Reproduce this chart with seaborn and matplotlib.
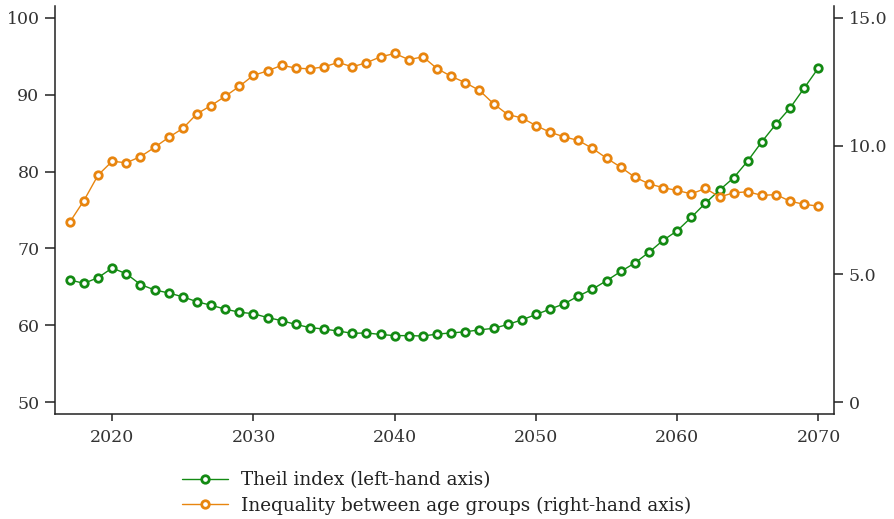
import matplotlib
matplotlib.use("Agg")
import matplotlib.pyplot as plt
import seaborn as sns
import pandas as pd
import numpy as np

years = list(range(2017, 2071))
theil = [65.9, 65.45, 66.2, 67.45, 66.7, 65.3, 64.6, 64.2, 63.7, 63.06,
         62.6, 62.1, 61.7, 61.5, 61.0, 60.6, 60.1, 59.7, 59.5, 59.25,
         58.95, 59.0, 58.8, 58.65, 58.65, 58.6, 58.85, 59.0, 59.15, 59.4,
         59.6, 60.1, 60.7, 61.4, 62.1, 62.8, 63.8, 64.7, 65.8, 67.0,
         68.1, 69.5, 71.05, 72.3, 74.05, 75.9, 77.6, 79.2, 81.4, 83.9,
         86.2, 88.3, 90.9, 93.5]
age_groups = [7.03, 7.87, 8.86, 9.4, 9.34, 9.58, 9.94, 10.33, 10.68, 11.25,
              11.57, 11.93, 12.32, 12.75, 12.92, 13.14, 13.03, 13.0, 13.08, 13.25,
              13.08, 13.24, 13.47, 13.6, 13.36, 13.47, 13.01, 12.71, 12.46, 12.16,
              11.64, 11.22, 11.09, 10.79, 10.53, 10.35, 10.21, 9.9, 9.52, 9.17,
              8.78, 8.52, 8.37, 8.26, 8.13, 8.34, 8.01, 8.17, 8.21, 8.07,
              8.1, 7.84, 7.72, 7.65]

left_ticks = [50, 60, 70, 80, 90, 100]
right_ticks = [0, 5, 10, 15]
right_tick_labels = ["0", "5.0", "10.0", "15.0"]
x_ticks = [2020, 2030, 2040, 2050, 2060, 2070]

label_theil = "Theil index (left-hand axis)"
label_age = "Inequality between age groups (right-hand axis)"

df = pd.DataFrame({"year": years, "theil": theil, "age": age_groups})

sns.set_theme(style="white")
plt.rcParams["font.family"] = ["DejaVu Serif", "Liberation Serif"]

green = "#138a13"
orange = "#e8850f"
spine_c = "#222222"

fig = plt.figure(figsize=(8.94, 5.19), dpi=100)
ax = fig.add_axes([55/894, 1 - 414/519, (834 - 55)/894, (414 - 6)/519])
ax2 = ax.twinx()

mk = dict(marker="o", markersize=5.4, markerfacecolor="white",
          markeredgewidth=2.0, linewidth=1.0)
sns.lineplot(data=df, x="year", y="theil", ax=ax, color=green,
             markeredgecolor=green, label=label_theil, legend=False, **mk)
sns.lineplot(data=df, x="year", y="age", ax=ax2, color=orange,
             markeredgecolor=orange, label=label_age, legend=False, **mk)

ax.set_xlim(2015.95, 2071.1)
ax.set_ylim(48.45, 101.55)
ax2.set_ylim(-0.45, 15.45)

ax.set_xticks(x_ticks)
ax.set_yticks(left_ticks)
ax2.set_yticks(right_ticks)
ax2.set_yticklabels(right_tick_labels)

for a in (ax, ax2):
    a.set_xlabel("")
    a.set_ylabel("")
    a.grid(False)
    a.set_facecolor("none")
    for s in a.spines.values():
        s.set_color(spine_c)
        s.set_linewidth(1.1)
    a.spines["top"].set_visible(False)

ax.spines["right"].set_visible(False)
ax2.spines["left"].set_visible(False)
ax2.spines["bottom"].set_visible(False)

tick_fs = 12.5
ax.tick_params(axis="y", which="both", left=True, length=7.2, width=1.1,
               color=spine_c, labelsize=tick_fs, labelcolor="#333333", pad=4)
ax.tick_params(axis="x", which="both", bottom=True, length=5, width=1.1,
               color=spine_c, labelsize=tick_fs, labelcolor="#333333", pad=6)
ax2.tick_params(axis="y", which="both", right=True, length=6.5, width=1.1,
                color=spine_c, labelsize=tick_fs, labelcolor="#333333", pad=4)

h1, l1 = ax.get_legend_handles_labels()
h2, l2 = ax2.get_legend_handles_labels()
fig.legend(h1 + h2, l1 + l2, loc="upper left",
           bbox_to_anchor=(173/894, 1 - 462/519), frameon=False,
           fontsize=13.2, handlelength=2.5, handletextpad=0.7,
           labelspacing=0.4, labelcolor="#222222", borderpad=0)

fig.savefig("out.png", dpi=100)
